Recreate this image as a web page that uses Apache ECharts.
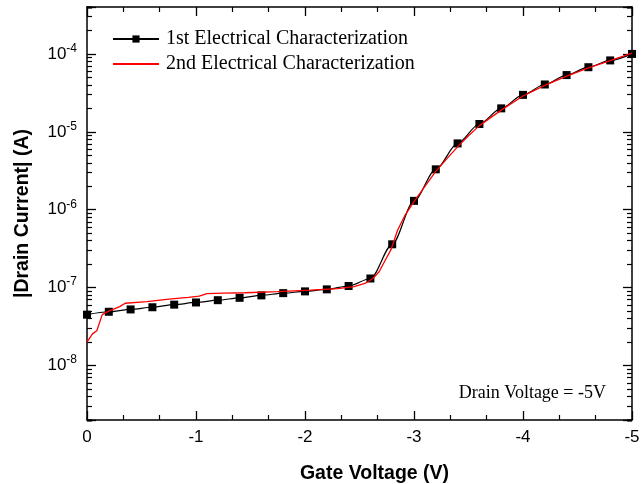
<!DOCTYPE html>
<html>
<head>
<meta charset="utf-8">
<script src="https://cdn.jsdelivr.net/npm/echarts@6/dist/echarts.min.js"></script>
<style>
  html, body { margin: 0; padding: 0; background: #fff; }
  #chart { width: 644px; height: 484px; }
</style>
</head>
<body>
<div id="chart"></div>
<script>
// First sweep: measured every 0.2 V (drawn with square markers)
const gateVoltage1 = [0, -0.2, -0.4, -0.6, -0.8, -1.0, -1.2, -1.4, -1.6, -1.8, -2.0, -2.2, -2.4,
  -2.6, -2.8, -3.0, -3.2, -3.4, -3.6, -3.8, -4.0, -4.2, -4.4, -4.6, -4.8, -5.0];
const drainCurrent1 = [4.5e-8, 4.9e-8, 5.25e-8, 5.6e-8, 6.05e-8, 6.45e-8, 6.9e-8, 7.4e-8, 7.95e-8,
  8.5e-8, 8.95e-8, 9.5e-8, 1.05e-7, 1.31e-7, 3.6e-7, 1.3e-6, 3.3e-6, 7.1e-6, 1.26e-5, 2.0e-5,
  2.98e-5, 4.05e-5, 5.35e-5, 6.75e-5, 8.25e-5, 1.0e-4];

// Second sweep: plain red trace
const gateVoltage2 = [0, -0.05, -0.09, -0.14, -0.2, -0.3, -0.35, -0.55, -0.75, -0.93, -1.03, -1.1,
  -1.25, -1.45, -1.75, -2.05, -2.3, -2.45, -2.55, -2.62, -2.68, -2.74, -2.79, -2.85, -2.92, -3.0,
  -3.1, -3.2, -3.3, -3.4, -3.5, -3.6, -3.8, -4.0, -4.2, -4.4, -4.6, -4.8, -5.0];
const drainCurrent2 = [2.0e-8, 2.55e-8, 2.8e-8, 4.5e-8, 5.0e-8, 5.7e-8, 6.3e-8, 6.6e-8, 7.1e-8,
  7.5e-8, 7.8e-8, 8.4e-8, 8.5e-8, 8.6e-8, 8.9e-8, 9.3e-8, 9.7e-8, 1.03e-7, 1.13e-7, 1.3e-7,
  1.6e-7, 2.3e-7, 3.1e-7, 5.5e-7, 8.6e-7, 1.27e-6, 2.0e-6, 3.1e-6, 4.5e-6, 6.4e-6, 8.9e-6,
  1.2e-5, 1.9e-5, 2.88e-5, 3.95e-5, 5.2e-5, 6.6e-5, 8.2e-5, 1.02e-4];

const seriesNames = ['1st Electrical Characterization', '2nd Electrical Characterization'];
const xAxisTitle = 'Gate Voltage (V)';
const yAxisTitle = '|Drain Current| (A)';
const noteText = 'Drain Voltage = -5V';

// Axis ranges
const xMin = -5, xMax = 0, xStep = 1;
const yMin = 2e-9, yMax = 4e-4;

// Mantissas of the minor log ticks inside each decade
const minorMantissas = [2, 3, 4, 5, 6, 7, 8, 9];

const SANS = '"Liberation Sans", Arial, Helvetica, sans-serif';
const SERIF = '"Liberation Serif", "Times New Roman", Times, serif';
const INK = '#000';
const RED = '#ff0000';
const MINOR_LEN = 5;

function pairs(xs, ys) { return xs.map((x, i) => [x, ys[i]]); }

function powerLabel(v) {
  const e = Math.log10(v);
  const r = Math.round(e);
  if (Math.abs(e - r) > 1e-6) return '';
  return '{b|10}{s|' + r + '}';
}

function xAxisOpt(extra) {
  return Object.assign({
    type: 'value', min: xMin, max: xMax, interval: xStep, inverse: true,
    axisLine: { show: true, onZero: false, lineStyle: { color: INK, width: 1.5 } },
    axisTick: { show: true, inside: true, length: 9, lineStyle: { color: INK, width: 1.3 } },
    minorTick: { show: true, splitNumber: 3, length: MINOR_LEN, lineStyle: { color: INK, width: 1.2 } },
    splitLine: { show: false }, minorSplitLine: { show: false }
  }, extra);
}

function yAxisOpt(extra) {
  return Object.assign({
    type: 'log', logBase: 10, min: yMin, max: yMax,
    axisLine: { show: true, onZero: false, lineStyle: { color: INK, width: 1.5 } },
    axisTick: { show: true, inside: true, length: 9, lineStyle: { color: INK, width: 1.3 } },
    splitLine: { show: false }
  }, extra);
}

// A log axis whose range is divided by k puts its 10^n ticks exactly where
// k·10^n sits on the main axis: one tick-only axis per mantissa and side.
function minorLogAxis(k, side) {
  return {
    type: 'log', logBase: 10, min: yMin / k, max: yMax / k, position: side, offset: 0,
    axisLine: { show: false, onZero: false },
    axisTick: { show: true, inside: true, length: MINOR_LEN, lineStyle: { color: INK, width: 1.2 } },
    axisLabel: { show: false },
    splitLine: { show: false },
    silent: true
  };
}

const minorAxes = [];
minorMantissas.forEach(k => {
  minorAxes.push(minorLogAxis(k, 'left'), minorLogAxis(k, 'right'));
});

const chart = echarts.init(document.getElementById('chart'), null, { renderer: 'canvas' });

chart.setOption({
  animation: false,
  backgroundColor: '#fff',
  grid: { left: 87, right: 12, top: 7, bottom: 64, outerBoundsMode: 'none' },
  legend: {
    orient: 'vertical', left: 107, top: 24,
    itemWidth: 46, itemHeight: 9, itemGap: 5,
    data: [
      { name: seriesNames[0] },
      { name: seriesNames[1], itemStyle: { opacity: 0 } }
    ],
    textStyle: { fontFamily: SERIF, fontSize: 20, color: INK, padding: [0, 0, 0, 2] }
  },
  xAxis: [
    xAxisOpt({
      position: 'bottom',
      name: xAxisTitle, nameLocation: 'middle', nameGap: 44,
      nameTextStyle: { fontFamily: SANS, fontWeight: 'bold', fontSize: 19.5, color: INK, padding: [0, 0, 0, 30] },
      axisLabel: { show: true, margin: 9, fontFamily: SANS, fontSize: 17, color: INK }
    }),
    xAxisOpt({ position: 'top', axisLabel: { show: false } })
  ],
  yAxis: [
    yAxisOpt({
      position: 'left',
      name: yAxisTitle, nameLocation: 'middle', nameGap: 54, nameRotate: 90,
      nameTextStyle: { fontFamily: SANS, fontWeight: 'bold', fontSize: 19.5, color: INK },
      axisLabel: {
        show: true, margin: 10, formatter: powerLabel,
        rich: {
          b: { fontFamily: SANS, fontSize: 17, color: INK, lineHeight: 17 },
          s: { fontFamily: SANS, fontSize: 12, color: INK, lineHeight: 12, padding: [0, 0, 11, 0] }
        }
      }
    }),
    yAxisOpt({ position: 'right', axisLabel: { show: false } })
  ].concat(minorAxes),
  graphic: [
    { type: 'text', id: 'note', right: 38, top: 384, style: { text: noteText, font: '18px ' + SERIF, fill: INK } }
  ],
  series: [
    {
      name: seriesNames[0], type: 'line', xAxisIndex: 0, yAxisIndex: 0,
      data: pairs(gateVoltage1, drainCurrent1),
      smooth: 0.3, smoothMonotone: 'x',
      symbol: 'rect', symbolSize: 8, showSymbol: true,
      lineStyle: { color: INK, width: 1.2 },
      itemStyle: { color: INK },
      z: 2
    },
    {
      name: seriesNames[1], type: 'line', xAxisIndex: 0, yAxisIndex: 0,
      data: pairs(gateVoltage2, drainCurrent2),
      symbol: 'none', showSymbol: false,
      lineStyle: { color: RED, width: 1.3 },
      itemStyle: { color: RED },
      z: 3
    }
  ]
});
</script>
</body>
</html>
